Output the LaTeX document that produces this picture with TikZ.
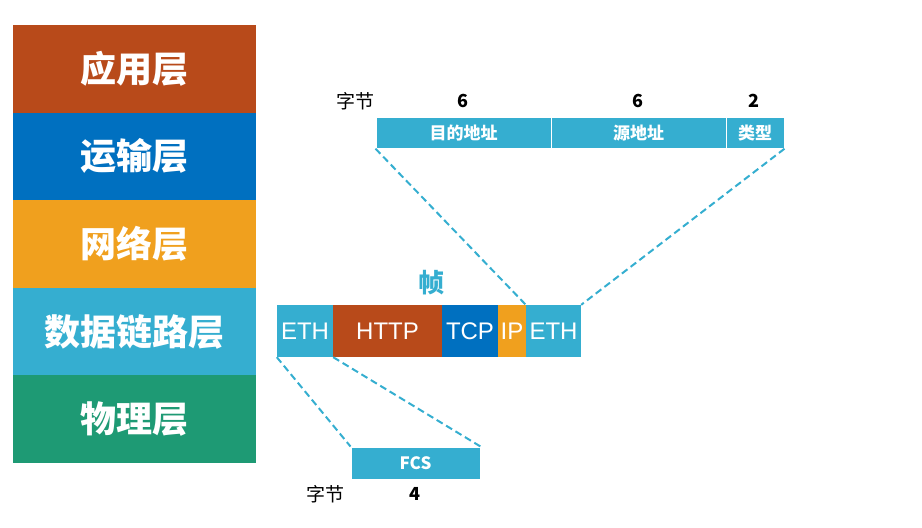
\documentclass[tikz,border=0pt]{standalone}
\usepackage{fontspec}
\setsansfont{Liberation Sans}
\newfontfamily\cjk{Noto Sans CJK SC}

\definecolor{appc}{RGB}{184,74,26}
\definecolor{tptc}{RGB}{0,112,192}
\definecolor{netc}{RGB}{240,160,30}
\definecolor{linkc}{RGB}{53,174,208}
\definecolor{phyc}{RGB}{30,154,116}

\tikzset{
  layer/.style={rectangle, minimum width=243pt, minimum height=87.6pt, inner sep=0pt,
    text=white, font=\cjk\bfseries\fontsize{36}{40}\selectfont},
  field/.style={rectangle, fill=linkc, draw=white, line width=1pt, minimum height=31pt,
    inner sep=0pt, text=white, font=\cjk\bfseries\fontsize{17}{20}\selectfont},
  seg/.style={rectangle, minimum height=52pt, inner sep=0pt, text=white,
    font=\sffamily\fontsize{24}{28}\selectfont},
  unit/.style={inner sep=0pt, font=\cjk\fontsize{19}{22}\selectfont},
  bytes/.style={inner sep=0pt, font=\cjk\bfseries\fontsize{18}{22}\selectfont},
  guide/.style={draw=linkc, line width=2pt, dash pattern=on 7pt off 4pt},
}

\begin{document}
\begin{tikzpicture}[x=1pt, y=-1pt]

  %% ════ 五层协议栈 ════
  \node[layer, fill=appc]  (app)  at (134.5,68.8)  {应用层};
  \node[layer, fill=tptc]  (tpt)  at (134.5,156.4) {运输层};
  \node[layer, fill=netc]  (net)  at (134.5,244.0) {网络层};
  \node[layer, fill=linkc] (link) at (134.5,331.6) {数据链路层};
  \node[layer, fill=phyc]  (phy)  at (134.5,419.2) {物理层};

  %% ════ 首部字段（上方）════
  \node[field, minimum width=175pt] (dst)  at (463.5,132.7) {目的地址};
  \node[field, minimum width=175pt] (src)  at (638.5,132.7) {源地址};
  \node[field, minimum width=58pt]  (type) at (755.0,132.7) {类型};
  \node[unit]  (hdrbytes) at (355,101) {字节};
  \node[bytes] (dstlen)   at (463,101) {6};
  \node[bytes] (srclen)   at (638,101) {6};
  \node[bytes] (typelen)  at (754,101) {2};

  %% ════ 帧 ════
  \node[inner sep=0pt, text=linkc, font=\cjk\bfseries\fontsize{26}{30}\selectfont] (frame) at (431,283) {帧};
  \node[seg, fill=linkc, minimum width=56pt]  (eth1) at (305.0,331) {ETH};
  \node[seg, fill=appc,  minimum width=109pt] (http) at (387.5,331) {HTTP};
  \node[seg, fill=tptc,  minimum width=56pt]  (tcp)  at (470.0,331) {TCP};
  \node[seg, fill=netc,  minimum width=28pt]  (ip)   at (512.0,331) {IP};
  \node[seg, fill=linkc, minimum width=55pt]  (eth2) at (553.5,331) {ETH};

  %% ════ 尾部 FCS（下方）════
  \node[field, minimum width=129pt, minimum height=32pt] (fcs) at (415.5,463) {FCS};
  \node[unit]  (tlrbytes) at (325,494) {字节};
  \node[bytes] (fcslen)   at (415,494) {4};

  %% ════ 虚线引线 ════
  \draw[guide] (dst.south west) -- (eth2.north west);
  \draw[guide] (type.south east) -- (eth2.north east);
  \draw[guide] (eth1.south west) -- (fcs.north west);
  \draw[guide] (eth1.south east) -- (fcs.north east);

  \pgfresetboundingbox
  \path[use as bounding box] (0,0) rectangle (922,528);
\end{tikzpicture}
\end{document}
